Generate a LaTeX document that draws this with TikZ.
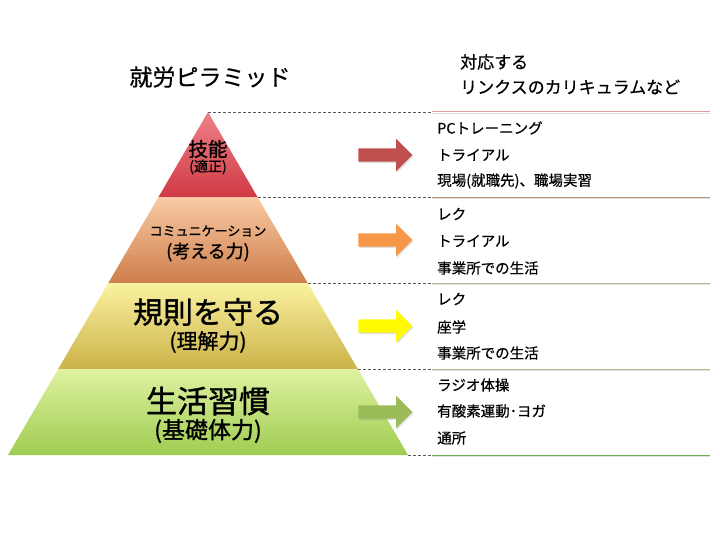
\documentclass[tikz,border=0pt]{standalone}
\usepackage{fontspec}
\setmainfont{Noto Sans CJK JP}
\newfontfamily\jpmid[FakeBold=1.2]{Noto Sans CJK JP}
\newfontfamily\jplow[FakeBold=0.5]{Noto Sans CJK JP}
\usetikzlibrary{shapes.arrows,shadows}

\definecolor{lvRedTop}{RGB}{238,128,136}
\definecolor{lvRedBot}{RGB}{208,58,68}
\definecolor{lvOrTop}{RGB}{249,202,164}
\definecolor{lvOrBot}{RGB}{206,126,76}
\definecolor{lvYeTop}{RGB}{250,242,160}
\definecolor{lvYeBot}{RGB}{204,178,72}
\definecolor{lvGrTop}{RGB}{222,242,160}
\definecolor{lvGrBot}{RGB}{160,204,82}
\definecolor{arRed}{RGB}{192,80,77}
\definecolor{arOr}{RGB}{247,150,70}
\definecolor{arYe}{RGB}{255,250,0}
\definecolor{arGr}{RGB}{155,187,89}
\definecolor{lnRed}{RGB}{218,158,160}
\definecolor{lnOr}{RGB}{184,150,118}
\definecolor{lnYe}{RGB}{190,184,140}
\definecolor{lnGr}{RGB}{112,172,84}

\begin{document}
\begin{tikzpicture}[
    x=1pt, y=-1pt,
    item/.style={anchor=west, inner sep=0pt, font=\jplow\fontsize{14.5}{16}\selectfont},
    head/.style={anchor=west, inner sep=0pt, font=\jplow\fontsize{17}{19}\selectfont},
    blk/.style={single arrow, draw=none, minimum height=54pt, minimum width=32pt,
                single arrow head extend=9.5pt, inner xsep=0pt, inner ysep=6.5pt,
                drop shadow={opacity=0.25, shadow xshift=1pt, shadow yshift=-1.5pt}},
    guide/.style={densely dashed, gray!70!black, line width=0.6pt},
    rulel/.style={line width=1pt},
    lvl/.style={inner sep=0pt}
]
  \useasboundingbox (0,0) rectangle (720,540);

  % ===== Pyramide =====
  \coordinate (apex) at (208,112);
  \coordinate (l1) at (158.2,197.5);  \coordinate (r1) at (257.8,197.5);
  \coordinate (l2) at (108.3,283);    \coordinate (r2) at (307.7,283);
  \coordinate (l3) at (58.2,369);     \coordinate (r3) at (357.8,369);
  \coordinate (l4) at (8,455);        \coordinate (r4) at (408,455);

  \shade[top color=lvRedTop, bottom color=lvRedBot] (apex) -- (r1) -- (l1) -- cycle;
  \shade[top color=lvOrTop, bottom color=lvOrBot] (l1) -- (r1) -- (r2) -- (l2) -- cycle;
  \shade[top color=lvYeTop, bottom color=lvYeBot] (l2) -- (r2) -- (r3) -- (l3) -- cycle;
  \shade[top color=lvGrTop, bottom color=lvGrBot] (l3) -- (r3) -- (r4) -- (l4) -- cycle;

  \node[lvl, font=\jpmid\fontsize{19.5}{20}\selectfont] (t1) at (208,149) {技能};
  \node[lvl, font=\jpmid\fontsize{14}{15}\selectfont] (t1b) at (208,167) {(適正)};
  \node[lvl, font=\jpmid\fontsize{13}{14}\selectfont] (t2) at (208,231) {コミュニケーション};
  \node[lvl, font=\jpmid\fontsize{18}{19}\selectfont] (t2b) at (208,252) {(考える力)};
  \node[lvl, font=\jpmid\fontsize{30}{31}\selectfont] (t3) at (208,312) {規則を守る};
  \node[lvl, font=\jpmid\fontsize{21}{22}\selectfont] (t3b) at (208,342) {(理解力)};
  \node[lvl, font=\jpmid\fontsize{31}{32}\selectfont] (t4) at (208,401) {生活習慣};
  \node[lvl, font=\jpmid\fontsize{23}{24}\selectfont] (t4b) at (208,431) {(基礎体力)};

  % ===== Titel =====
  \node[inner sep=0pt, font=\jplow\fontsize{23}{24}\selectfont] (title) at (210,77) {就労ピラミッド};
  \node[head] (h1) at (460,62) {対応する};
  \node[head] (h2) at (460,87) {リンクスのカリキュラムなど};

  % ===== Trennlinien =====
  \coordinate (j0) at (432,112);   \coordinate (e0) at (710,112);
  \coordinate (j1) at (432,197.5); \coordinate (e1) at (710,197.5);
  \coordinate (j2) at (432,283);   \coordinate (e2) at (710,283);
  \coordinate (j3) at (432,369);   \coordinate (e3) at (710,369);
  \coordinate (j4) at (432,455);   \coordinate (e4) at (710,455);
  \draw[guide] (apex) -- (j0);
  \draw[guide] (r1) -- (j1);
  \draw[guide] (r2) -- (j2);
  \draw[guide] (r3) -- (j3);
  \draw[guide] (r4) -- (j4);
  \foreach \i/\c in {0/lnRed,1/lnOr,2/lnYe,3/lnYe,4/lnGr} {
    \draw[rulel, black!12] ([yshift=-1.5pt]j\i) -- ([yshift=-1.5pt]e\i);
    \draw[rulel, \c] (j\i) -- (e\i);
  }

  % ===== Pfeile =====
  \node[blk, fill=arRed] (a1) at (382,155) {};
  \node[blk, fill=arOr] (a2) at (382,240) {};
  \node[blk, fill=arYe] (a3) at (382,326) {};
  \node[blk, fill=arGr] (a4) at (382,412) {};

  % ===== Kurse =====
  \foreach \y/\t in {128/PCトレーニング, 155/トライアル, 181/現場(就職先)、職場実習,
                     214/レク, 241/トライアル, 268/事業所での生活,
                     299/レク, 327/座学, 353/事業所での生活,
                     385/ラジオ体操, 411/有酸素運動･ヨガ, 438/通所} {
    \node[item] (k\y) at (437,\y) {\t};
  }
\end{tikzpicture}
\end{document}
